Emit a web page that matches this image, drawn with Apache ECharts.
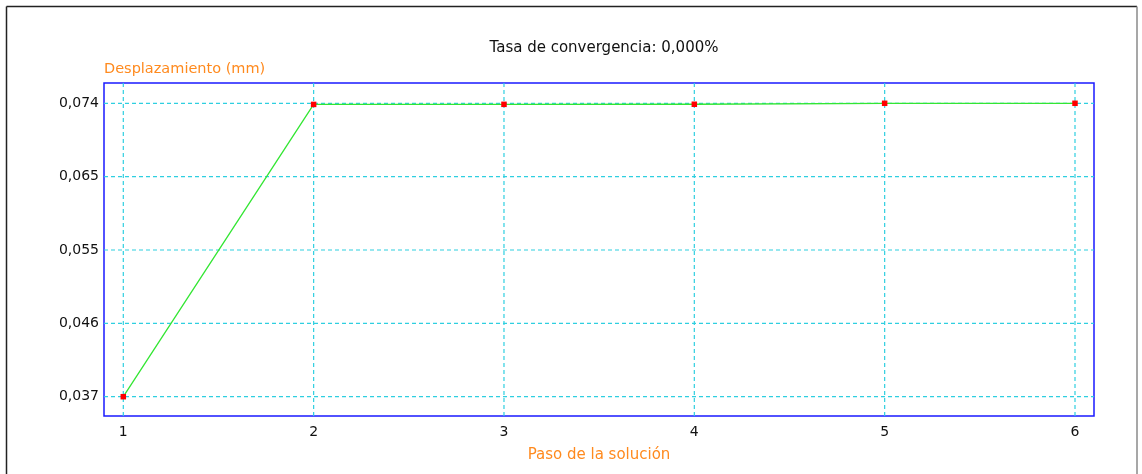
<!DOCTYPE html>
<html>
<head>
<meta charset="utf-8">
<script src="https://cdn.jsdelivr.net/npm/echarts@6/dist/echarts.min.js"></script>
<style>
  html, body { margin: 0; padding: 0; background: #fff; }
  #chart { width: 1142px; height: 474px; }
</style>
</head>
<body>
<div id="chart"></div>
<script>
// Solution steps and the displacement found at each one
var steps = [1, 2, 3, 4, 5, 6];
var displacement = [0.0370, 0.07386, 0.07387, 0.07388, 0.07400, 0.07400];

// Y axis tick positions and their printed labels
var yTickValues = [0.037, 0.04625, 0.0555, 0.06475, 0.074];
var yTickLabels = ['0,037', '0,046', '0,055', '0,065', '0,074'];
var xTickLabels = ['1', '2', '3', '4', '5', '6'];

var titleText = 'Tasa de convergencia: 0,000%';
var yName = 'Desplazamiento (mm)';
var xName = 'Paso de la solución';

// Plot box geometry (px)
var box = { left: 104, top: 83, width: 990, height: 333 };
var padX = { left: 19.3, right: 19 };
var padY = { top: 20.3, bottom: 19.3 };

var yLo = yTickValues[0], yHi = yTickValues[yTickValues.length - 1];
var yPerPx = (yHi - yLo) / (box.height - padY.top - padY.bottom);
var xLo = steps[0], xHi = steps[steps.length - 1];
var xPerPx = (xHi - xLo) / (box.width - padX.left - padX.right);
var xMin = xLo - padX.left * xPerPx, xMax = xHi + padX.right * xPerPx;
var yMin = yLo - padY.bottom * yPerPx, yMax = yHi + padY.top * yPerPx;

var FONT = 'DejaVu Sans';

function yLabel(v) {
  var best = 0, d = Infinity;
  for (var i = 0; i < yTickValues.length; i++) {
    var dd = Math.abs(yTickValues[i] - v);
    if (dd < d) { d = dd; best = i; }
  }
  return yTickLabels[best];
}

// Dashed grid drawn as plain line series across the whole box
var gridLineStyle = { color: '#2fcfe0', width: 1.2, type: [4, 3] };
function gridSeries(points) {
  return {
    type: 'line', data: points, z: 1, silent: true, symbol: 'none',
    lineStyle: gridLineStyle, clip: false, animation: false,
    emphasis: { disabled: true }, tooltip: { show: false }
  };
}
var gridLines = [];
yTickValues.forEach(function (v) { gridLines.push(gridSeries([[xMin, v], [xMax, v]])); });
steps.forEach(function (s) { gridLines.push(gridSeries([[s, yMin], [s, yMax]])); });

var chart = echarts.init(document.getElementById('chart'), null, { renderer: 'canvas' });
chart.setOption({
  animation: false,
  backgroundColor: '#fff',
  title: {
    text: titleText,
    left: box.left + box.width / 2,
    textAlign: 'center',
    top: 36,
    textStyle: { fontFamily: FONT, fontSize: 15, fontWeight: 'normal', color: '#111' }
  },
  grid: {
    left: box.left, top: box.top, width: box.width, height: box.height,
    show: true, borderColor: '#1a1aff', borderWidth: 1.5, backgroundColor: '#fff'
  },
  xAxis: {
    type: 'value',
    min: xMin,
    max: xMax,
    axisLine: { show: false },
    axisTick: { show: false },
    splitLine: { show: false },
    axisLabel: {
      customValues: steps,
      formatter: function (v) { return xTickLabels[Math.round(v) - 1]; },
      fontFamily: FONT, fontSize: 14, color: '#111', margin: 9
    },
    name: xName,
    nameLocation: 'middle',
    nameGap: 32,
    nameTextStyle: { fontFamily: FONT, fontSize: 15, color: '#ff8a1e' }
  },
  yAxis: {
    type: 'value',
    min: yMin,
    max: yMax,
    axisLine: { show: false },
    axisTick: { show: false },
    splitLine: { show: false },
    axisLabel: {
      customValues: yTickValues,
      formatter: yLabel,
      fontFamily: FONT, fontSize: 14, color: '#111', margin: 5
    },
    name: yName,
    nameLocation: 'end',
    nameGap: 6,
    nameTextStyle: { fontFamily: FONT, fontSize: 14.5, color: '#ff8a1e', align: 'left' }
  },
  graphic: [
    { type: 'line', shape: { x1: 6.5, y1: 6.5, x2: 6.5, y2: 474 }, style: { stroke: '#222', lineWidth: 1.5 } },
    { type: 'line', shape: { x1: 6.5, y1: 6.5, x2: 1137, y2: 6.5 }, style: { stroke: '#222', lineWidth: 1.5 } },
    { type: 'line', shape: { x1: 1137, y1: 6.5, x2: 1137, y2: 474 }, style: { stroke: '#8a8a8a', lineWidth: 1.5 } }
  ],
  series: gridLines.concat([
    {
      type: 'line',
      z: 3,
      data: steps.map(function (s, i) { return [s, displacement[i]]; }),
      symbol: 'rect',
      symbolSize: 5.5,
      showSymbol: true,
      itemStyle: { color: '#ff0000' },
      lineStyle: { color: '#33e633', width: 1.3 }
    }
  ])
});
</script>
</body>
</html>
